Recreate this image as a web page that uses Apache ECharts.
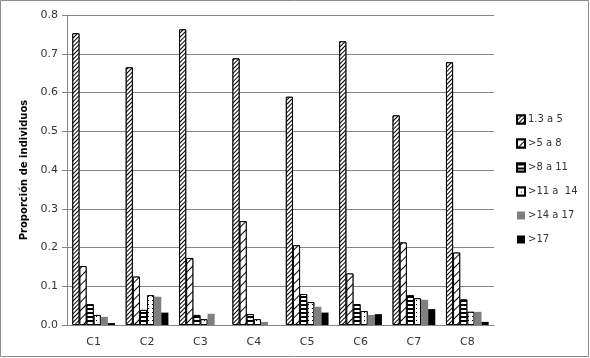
<!DOCTYPE html>
<html><head><meta charset="utf-8">
<script src="https://cdn.jsdelivr.net/npm/echarts@6/dist/echarts.min.js"></script>
<style>html,body{margin:0;padding:0;background:#fff}#c{width:590px;height:358px}</style>
</head><body><div id="c"></div>
<script>
var categories = ['C1','C2','C3','C4','C5','C6','C7','C8'];
var seriesNames = ['1.3 a 5','>5 a 8','>8 a 11','>11 a  14','>14 a 17','>17'];
var s1 = [0.753,0.665,0.763,0.688,0.589,0.732,0.541,0.678];
var s2 = [0.152,0.125,0.173,0.268,0.206,0.133,0.213,0.187];
var s3 = [0.054,0.039,0.026,0.028,0.080,0.054,0.077,0.066];
var s4 = [0.026,0.077,0.015,0.015,0.059,0.036,0.069,0.034];
var s5 = [0.021,0.073,0.029,0.008,0.047,0.026,0.065,0.034];
var s6 = [0.005,0.032,0.000,0.000,0.032,0.028,0.041,0.008];
var yTicks = [0,0.1,0.2,0.3,0.4,0.5,0.6,0.7,0.8];

var values = [s1,s2,s3,s4,s5,s6];
var decals = [
  {symbol:'rect', color:'#000', backgroundColor:'#fff', dashArrayX:[1,0], dashArrayY:[1,2], rotation:-Math.PI/4},
  {symbol:'rect', color:'#000', backgroundColor:'#fff', dashArrayX:[1,0], dashArrayY:[1,5], rotation:-Math.PI/4},
  {symbol:'rect', color:'#000', backgroundColor:'#fff', dashArrayX:[1,0], dashArrayY:[2,2], rotation:0},
  {symbol:'rect', color:'#000', backgroundColor:'#fff', dashArrayX:[1,3], dashArrayY:[1,3], rotation:0, symbolSize:1},
  null, null
];
var colors = ['#fff','#fff','#fff','#fff','#808080','#000'];
var borders = ['#000','#000','#000','#000','#808080','#000'];
var bw = [1,1,1,1,0,0];

var series = values.map(function(v,i){
  var st = {color:colors[i], borderColor:borders[i], borderWidth:bw[i]};
  if (decals[i]) st.decal = decals[i];
  return {name:seriesNames[i], type:'bar', data:v, barGap:'0%', barCategoryGap:'20%',
    itemStyle:st, emphasis:{disabled:true}, animation:false};
});

var chart = echarts.init(document.getElementById('c'), null, {renderer:'canvas'});
chart.setOption({
  animation:false,
  textStyle:{fontFamily:'DejaVu Sans'},
  graphic:[{type:'rect', shape:{x:0.5,y:0.5,width:588,height:356}, style:{fill:null, stroke:'#8c8c8c', lineWidth:1}, silent:true}],
  grid:{left:67, right:96, top:15, bottom:33},
  legend:{
    orient:'vertical', left:516, top:113, padding:0, itemWidth:8, itemHeight:8, itemGap:11, icon:'rect',
    textStyle:{fontSize:10, color:'#333', fontFamily:'DejaVu Sans', lineHeight:13, padding:[0,0,0,-2]},
    data:seriesNames
  },
  xAxis:{
    type:'category', data:categories,
    axisLine:{lineStyle:{color:'#868686'}},
    axisTick:{show:false},
    axisLabel:{fontSize:11, color:'#333', margin:12}
  },
  yAxis:{
    type:'value', min:0, max:0.8, interval:0.1,
    name:'Proporción de individuos', nameLocation:'middle', nameGap:37,
    nameTextStyle:{fontSize:10, fontWeight:'bold', color:'#000'},
    axisLine:{show:true, lineStyle:{color:'#868686'}},
    axisTick:{show:true, inside:false, length:5, lineStyle:{color:'#868686'}},
    axisLabel:{fontSize:11, color:'#333', margin:9, formatter:function(v){return v.toFixed(1);}},
    splitLine:{lineStyle:{color:'#868686'}}
  },
  series:series
});
</script></body></html>
